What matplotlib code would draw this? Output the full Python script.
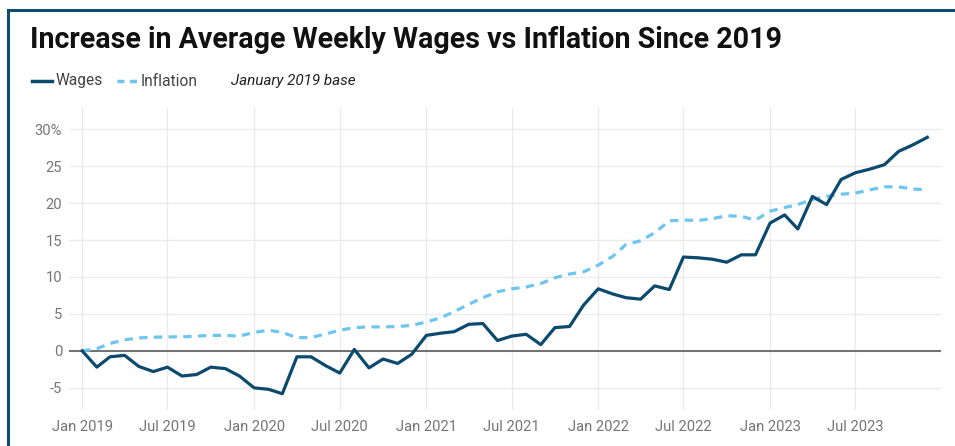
import numpy as np
import pandas as pd
import matplotlib
matplotlib.use('Agg')
import matplotlib.pyplot as plt
import matplotlib.dates as mdates
from matplotlib.lines import Line2D
from matplotlib.ticker import FuncFormatter

# 数据：2019年1月为基期的累计涨幅(%)
months = pd.date_range('2019-01-01', periods=60, freq='MS')

wages = [0.0, -2.2, -0.8, -0.6, -2.1, -2.8, -2.2, -3.4, -3.2, -2.2, -2.4, -3.4,
         -5.0, -5.2, -5.8, -0.8, -0.8, -2.0, -3.0, 0.2, -2.3, -1.1, -1.7, -0.45,
         2.1, 2.4, 2.6, 3.6, 3.7, 1.4, 2.0, 2.25, 0.85, 3.15, 3.3, 6.2,
         8.4, 7.7, 7.2, 7.0, 8.8, 8.3, 12.7, 12.6, 12.4, 12.0, 13.0, 13.0,
         17.3, 18.4, 16.5, 20.9, 19.8, 23.2, 24.1, 24.6, 25.2, 27.0, 27.9, 28.9]

inflation = [0.0, 0.3, 1.0, 1.5, 1.75, 1.85, 1.9, 1.9, 2.0, 2.1, 2.1, 2.0,
             2.5, 2.8, 2.5, 1.8, 1.8, 2.3, 2.8, 3.15, 3.25, 3.25, 3.3, 3.45,
             3.9, 4.5, 5.3, 6.3, 7.2, 8.0, 8.4, 8.65, 9.1, 9.9, 10.4, 10.7,
             11.6, 12.8, 14.4, 14.9, 16.0, 17.6, 17.7, 17.65, 17.9, 18.3, 18.2, 17.7,
             18.9, 19.4, 19.8, 20.5, 20.9, 21.2, 21.35, 21.8, 22.2, 22.2, 21.9, 21.8]

y_ticks = [-5, 0, 5, 10, 15, 20, 25, 30]

WAGE_COLOR = '#0b4a6e'
INFL_COLOR = '#6ec5ef'
FRAME_COLOR = '#0e4c71'
TICK_COLOR = '#757575'
GRID_COLOR = '#ebebeb'

plt.rcParams['font.family'] = ['Roboto', 'DejaVu Sans']

fig = plt.figure(figsize=(9.55, 4.46), dpi=100)
ax = fig.add_axes([0.0723, 0.0807, 0.913, 0.6793])

ax.plot(months, wages, color=WAGE_COLOR, linewidth=2.3, solid_joinstyle='round', zorder=4)
ax.plot(months, inflation, color=INFL_COLOR, linewidth=2.3, linestyle=(0, (2.6, 2.0)), zorder=3)
ax.axhline(0, color='#666666', linewidth=1.3, zorder=2)

ax.set_xlim(pd.Timestamp('2018-12-04'), pd.Timestamp('2023-12-30'))
ax.set_ylim(-8, 33)

ax.set_yticks(y_ticks)
ax.yaxis.set_major_formatter(FuncFormatter(lambda v, p: f'{int(v)}%' if v == 30 else f'{int(v)}'))
ax.xaxis.set_major_locator(mdates.MonthLocator(bymonth=[1, 7]))
ax.xaxis.set_major_formatter(mdates.DateFormatter('%b %Y'))

ax.tick_params(axis='both', length=0, labelsize=10.6, labelcolor=TICK_COLOR)
ax.tick_params(axis='y', pad=5)
ax.tick_params(axis='x', pad=7)

ax.grid(True, color=GRID_COLOR, linewidth=1.0, zorder=0)
for s in ax.spines.values():
    s.set_visible(False)

# 标题
fig.text(0.031, 1 - 40 / 446, 'Increase in Average Weekly Wages vs Inflation Since 2019',
         fontsize=20.6, fontweight='bold', color='#111111', va='center', ha='left')

# 图例
ly = 1 - 81 / 446
fig.add_artist(Line2D([32 / 955, 52 / 955], [ly, ly], color=WAGE_COLOR, linewidth=2.5,
                      transform=fig.transFigure))
fig.text(56 / 955, ly, 'Wages', fontsize=11.2, color='#444444', va='center', ha='left')
fig.add_artist(Line2D([117 / 955, 137 / 955], [ly, ly], color=INFL_COLOR, linewidth=2.5,
                      linestyle=(0, (2.0, 1.6)), transform=fig.transFigure))
fig.text(141 / 955, ly, 'Inflation', fontsize=11.2, color='#444444', va='center', ha='left')
fig.text(231 / 955, ly, 'January 2019 base', fontsize=11.0, style='italic',
         color='#222222', va='center', ha='left')

# 外框
fig.add_artist(Line2D([7.5 / 955, 1.0], [1 - 9.5 / 446, 1 - 9.5 / 446], color=FRAME_COLOR,
                      linewidth=2.2, transform=fig.transFigure))
fig.add_artist(Line2D([8 / 955, 8 / 955], [0.0, 1 - 9.5 / 446], color=FRAME_COLOR,
                      linewidth=2.2, transform=fig.transFigure))

fig.savefig('out.png', dpi=100, facecolor='white')
